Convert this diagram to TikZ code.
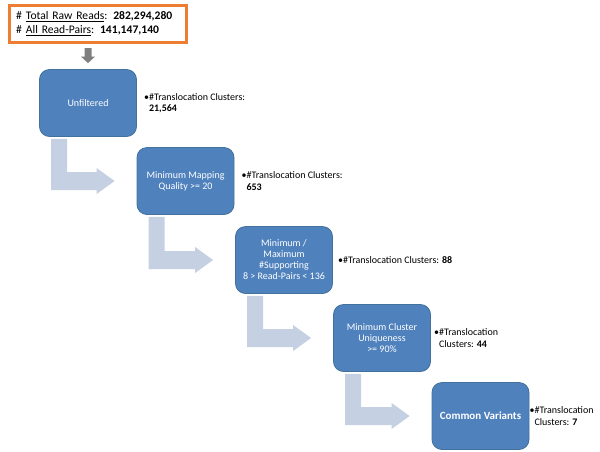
\documentclass[tikz,border=0pt]{standalone}
\usepackage{fontspec}
\setmainfont{Carlito}
\usepackage{tikz}
\usepackage{xcolor}
\usetikzlibrary{calc,positioning}

\definecolor{azulcaja}{HTML}{4F81BD}
\definecolor{bordecaja}{HTML}{41719C}
\definecolor{azulclaro}{HTML}{C5D0E3}
\definecolor{grisflecha}{HTML}{7F7F7F}
\definecolor{naranja}{HTML}{ED7D31}

% flecha en L de un filtro al siguiente
\newcommand{\flechaL}[2]{%
	\fill[azulclaro] let \p1=(#1.south west), \p2=(#2.west) in
		(\x1+12pt,\y1-2pt) -- (\x1+28pt,\y1-2pt) -- (\x1+28pt,\y2+9pt)
		-- (\x2-40pt,\y2+9pt) -- (\x2-40pt,\y2+13pt) -- (\x2-22pt,\y2)
		-- (\x2-40pt,\y2-13pt) -- (\x2-40pt,\y2-9pt) -- (\x1+12pt,\y2-9pt) -- cycle;}

\begin{document}
\begin{tikzpicture}[x=1pt, y=-1pt,
			 filtro/.style={rectangle, rounded corners=10pt, draw=bordecaja, fill=azulcaja, line width=0.8pt,
			 	minimum width=97pt, minimum height=67pt, inner sep=2pt, align=center, text=white,
			 	font=\fontsize{10}{11}\selectfont},
			 dato/.style={inner sep=0pt, align=left, font=\fontsize{10}{11.5}\selectfont},
			 resumen/.style={draw=naranja, line width=2.5pt, inner xsep=7pt, inner ysep=3pt,
			 	minimum height=37pt, text width=163pt, align=left, font=\fontsize{11.6}{14}\selectfont}
  		]
	\useasboundingbox (0,0) rectangle (600,451);

	%Lecturas totales
		\node[resumen, anchor=north west] (lecturas) at (8,4)
			{\# \underline{Total Raw Reads}: \textbf{282,294,280}\\
			 \# \underline{All Read-Pairs}: \textbf{141,147,140}};

	%Creamos los filtros
		\node[filtro] (u1) at (88,103) {Unfiltered};
		\node[filtro] (u2) at (185.5,181) {Minimum Mapping\\Quality >= 20};
		\node[filtro] (u3) at (284,260) {Minimum /\\Maximum\\\#Supporting\\8 > Read-Pairs < 136};
		\node[filtro] (u4) at (382,338) {Minimum Cluster\\Uniqueness\\>= 90\%};
		\node[filtro, font=\fontsize{11}{12}\selectfont\bfseries] (u5) at (480.5,416) {Common Variants};

	%Datos de cada filtro
		\node[dato, right=7pt of u1] (d1) {\textbullet\#Translocation Clusters:\\\phantom{\textbullet}\textbf{21,564}};
		\node[dato, right=7pt of u2] (d2) {\textbullet\#Translocation Clusters:\\\phantom{\textbullet}\textbf{653}};
		\node[dato, right=5pt of u3] (d3) {\textbullet\#Translocation Clusters: \textbf{88}};
		\node[dato, right=3pt of u4] (d4) {\textbullet\#Translocation\\\phantom{\textbullet}Clusters: \textbf{44}};
		\node[dato, right=0pt of u5] (d5) {\textbullet\#Translocation\\\phantom{\textbullet}Clusters: \textbf{7}};

	%Flecha gris hacia el primer filtro
		\fill[grisflecha] let \p1=(u1.north), \p2=(lecturas.south) in
			(\x1-3.5pt,\y2-4.5pt) -- (\x1+3.5pt,\y2-4.5pt) -- (\x1+3.5pt,\y1+12.5pt) -- (\x1+7pt,\y1+12.5pt)
			-- (\x1,\y1+6pt) -- (\x1-7pt,\y1+12.5pt) -- (\x1-3.5pt,\y1+12.5pt) -- cycle;

	%Flechas entre filtros
		\flechaL{u1}{u2}
		\flechaL{u2}{u3}
		\flechaL{u3}{u4}
		\flechaL{u4}{u5}
	\end{tikzpicture}
\end{document}
